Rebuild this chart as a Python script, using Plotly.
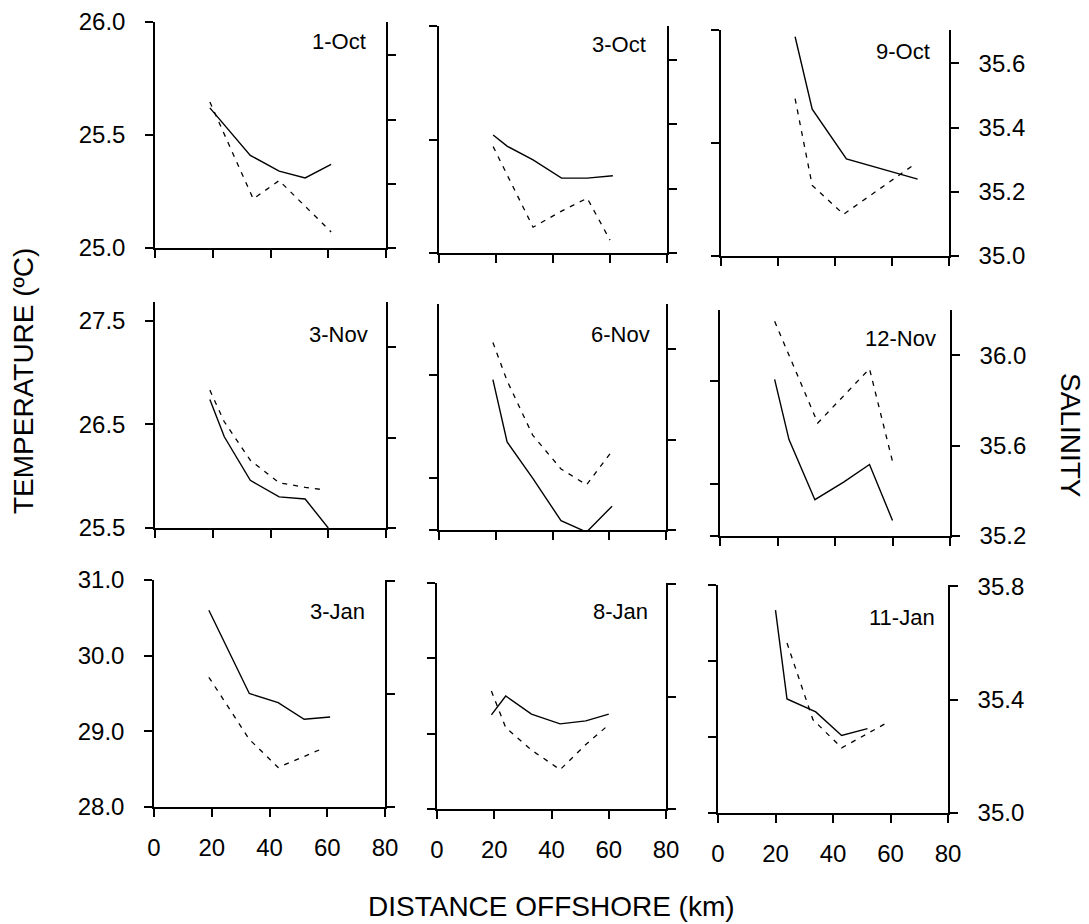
import plotly.graph_objects as go

W, H = 1089, 924

dates = ["1-Oct", "3-Oct", "9-Oct", "3-Nov", "6-Nov", "12-Nov", "3-Jan", "8-Jan", "11-Jan"]

# distance offshore (km) and temperature (°C), solid lines
temp_km = [
    [19, 33, 43, 52, 61],
    [19, 24, 33, 43, 52, 61],
    [26, 32, 44, 69],
    [19, 24, 33, 43, 52, 60],
    [19, 24, 33, 43, 52, 61],
    [19, 24, 33, 43, 52, 60],
    [19, 33, 43, 52, 61],
    [19, 24, 33, 43, 52, 60],
    [20, 24, 34, 43, 52],
]
temp_vals = [
    [25.62, 25.41, 25.34, 25.31, 25.37],
    [25.52, 25.47, 25.41, 25.33, 25.33, 25.34],
    [25.97, 25.65, 25.43, 25.34],
    [26.74, 26.38, 25.96, 25.80, 25.78, 25.50],
    [26.95, 26.35, 26.00, 25.59, 25.48, 25.73],
    [27.01, 26.43, 25.85, 26.02, 26.19, 25.65],
    [30.60, 29.50, 29.38, 29.16, 29.19],
    [29.25, 29.50, 29.26, 29.13, 29.17, 29.26],
    [30.67, 29.50, 29.33, 29.02, 29.11],
]

# distance offshore (km) and salinity, dashed lines
sal_km = [
    [19, 34, 43, 52, 61],
    [19, 33, 43, 52, 60],
    [26, 32, 43, 67],
    [19, 24, 33, 43, 52, 58],
    [19, 24, 33, 43, 52, 61],
    [19, 24, 34, 43, 52, 60],
    [19, 33, 43, 52, 59],
    [19, 24, 33, 43, 52, 60],
    [24, 33, 43, 52, 59],
]
sal_vals = [
    [35.455, 35.153, 35.21, 35.13, 35.05],
    [35.33, 35.08, 35.13, 35.17, 35.04],
    [35.49, 35.22, 35.13, 35.28],
    [35.81, 35.67, 35.50, 35.40, 35.38, 35.37],
    [36.03, 35.86, 35.62, 35.47, 35.40, 35.55],
    [36.15, 36.00, 35.70, 35.82, 35.94, 35.53],
    [35.46, 35.24, 35.14, 35.18, 35.21],
    [35.42, 35.29, 35.21, 35.14, 35.23, 35.30],
    [35.60, 35.33, 35.23, 35.28, 35.32],
]

x_ticks = [0, 20, 40, 60, 80]
temp_ranges = [[25.0, 26.0]] * 3 + [[25.5, 27.68]] * 3 + [[28.0, 31.0]] * 3
sal_ranges = [[35.0, 35.704]] * 3 + [[35.2, 36.2]] * 3 + [[35.0, 35.805]] * 3
temp_ticks = ([[25.0, 25.5, 26.0]] * 3
              + [[25.5, 26.5, 27.5], [25.5, 26.0, 27.0], [25.5, 26.0, 27.0]]
              + [[28.0, 29.0, 30.0, 31.0]] * 3)
sal_ticks = [[35.0, 35.2, 35.4, 35.6]] * 3 + [[35.2, 35.6, 36.0]] * 3 + [[35.0, 35.4, 35.8]] * 3

# panel boxes in pixels: left, right, top, bottom
boxes = [
    (155, 386, 22, 248), (439, 667, 26, 253), (721, 949, 30, 256),
    (155, 386, 302, 528), (439, 666, 304, 530), (720, 950, 310, 536),
    (154, 385, 580, 807), (437, 666, 583, 809), (718, 948, 585, 813),
]
label_pos = [
    (368, 42), (648, 44), (932, 52),
    (370, 335), (652, 334), (938, 338),
    (367, 611), (650, 611), (937, 617),
]

FONT = "Liberation Sans, Arial, sans-serif"
TICKSIZE = 24

fig = go.Figure()
layout = dict(
    template="none",
    width=W, height=H, margin=dict(l=0, r=0, t=0, b=0, pad=0, autoexpand=False),
    paper_bgcolor="white", plot_bgcolor="white",
    showlegend=False, font=dict(family=FONT, color="black"),
)
annotations = []

for i in range(9):
    n = i + 1
    l, r, t, b = boxes[i]
    xd = [l / W, r / W]
    yd = [1 - b / H, 1 - t / H]
    xname = "x" if n == 1 else f"x{n}"
    yt = "y" if n == 1 else f"y{2 * n - 1}"
    ys = f"y{2 * n}"
    col = i % 3
    row = i // 3

    common = dict(showgrid=False, zeroline=False, showline=True, linecolor="black",
                  linewidth=1.5, ticks="outside", ticklen=8, tickwidth=1.5, tickcolor="black",
                  automargin=False,
                  tickfont=dict(family=FONT, size=TICKSIZE, color="black"))

    layout["xaxis" if n == 1 else f"xaxis{n}"] = dict(
        domain=xd, anchor=yt, range=[0, 80], tickvals=x_ticks,
        ticktext=[str(v) for v in x_ticks], showticklabels=(row == 2),
        ticklabelstandoff=10, **common)
    layout["yaxis" if n == 1 else f"yaxis{2 * n - 1}"] = dict(
        domain=yd, anchor=xname, range=temp_ranges[i], side="left",
        tickvals=temp_ticks[i], ticktext=[f"{v:.1f}" for v in temp_ticks[i]],
        showticklabels=(col == 0), ticklabelstandoff=15, **common)
    layout[f"yaxis{2 * n}"] = dict(
        domain=yd, anchor=xname, overlaying=yt, range=sal_ranges[i], side="right",
        tickvals=sal_ticks[i], ticktext=[f"{v:.1f}" for v in sal_ticks[i]],
        showticklabels=(col == 2), ticklabelstandoff=15, **common)

    fig.add_trace(go.Scatter(x=temp_km[i], y=temp_vals[i], mode="lines",
                             line=dict(color="black", width=1.4),
                             xaxis=xname, yaxis=yt, cliponaxis=True))
    fig.add_trace(go.Scatter(x=sal_km[i], y=sal_vals[i], mode="lines",
                             line=dict(color="black", width=1.3, dash="5px,6px"),
                             xaxis=xname, yaxis=ys, cliponaxis=True))

    lx, ly = label_pos[i]
    annotations.append(dict(x=lx / W, y=1 - ly / H, xref="paper", yref="paper",
                            text=dates[i], showarrow=False, xanchor="right", yanchor="middle",
                            font=dict(family=FONT, size=22, color="black")))

annotations.append(dict(x=23 / W, y=1 - 381 / H, xref="paper", yref="paper",
                        text="TEMPERATURE (ºC)", textangle=-90, showarrow=False,
                        xanchor="center", yanchor="middle",
                        font=dict(family=FONT, size=28, color="black")))
annotations.append(dict(x=1070 / W, y=1 - 435 / H, xref="paper", yref="paper",
                        text="SALINITY", textangle=90, showarrow=False,
                        xanchor="center", yanchor="middle",
                        font=dict(family=FONT, size=28, color="black")))
annotations.append(dict(x=551 / W, y=1 - 906 / H, xref="paper", yref="paper",
                        text="DISTANCE OFFSHORE (km)", showarrow=False,
                        xanchor="center", yanchor="middle",
                        font=dict(family=FONT, size=28, color="black")))

layout["annotations"] = annotations
fig.update_layout(**layout)
fig.write_html("out.html")
